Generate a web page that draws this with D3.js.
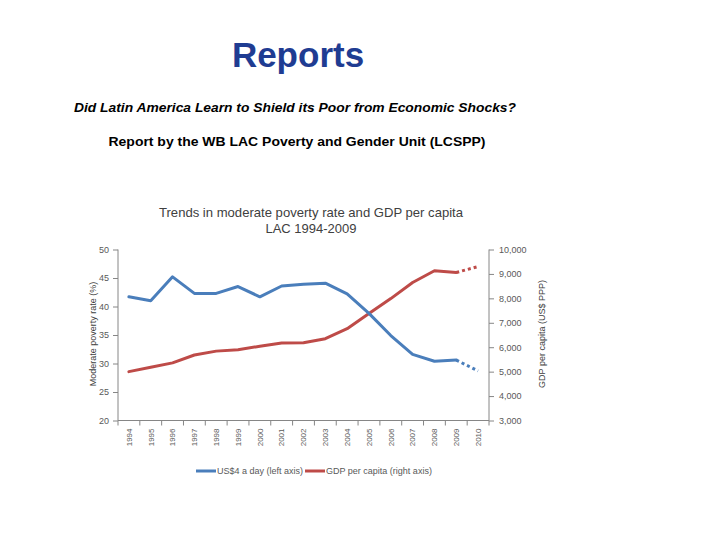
<!DOCTYPE html>
<html><head><meta charset="utf-8">
<script src="https://cdn.jsdelivr.net/npm/d3@7"></script>
<style>body{margin:0;background:#fff}svg{display:block}</style>
</head><body>
<svg id="c" width="720" height="540"></svg>
<script>
const years = ["1994","1995","1996","1997","1998","1999","2000","2001","2002","2003","2004","2005","2006","2007","2008","2009","2010"];
const poverty = [41.7,41.0,45.2,42.3,42.3,43.5,41.7,43.6,43.9,44.1,42.2,38.8,34.9,31.6,30.4,30.6,28.7];
const gdp = [5000,5180,5360,5680,5840,5900,6040,6170,6180,6350,6760,7380,7990,8650,9130,9060,9300];
const projectedFrom = "2009";
const leftTicks = [20,25,30,35,40,45,50];
const rightTicks = [3000,4000,5000,6000,7000,8000,9000,10000];
const seriesNames = ["US$4 a day (left axis)","GDP per capita (right axis)"];

const svg = d3.select("#c");
const F = "'Liberation Sans', Arial, sans-serif";
const L = 118, R = 489, T = 249.5, B = 420.5;
const x = d3.scaleBand().domain(years).range([L, R]);
const cx = d => x(d) + x.bandwidth()/2;
const yL = d3.scaleLinear().domain([20,50]).range([B, T]);
const yR = d3.scaleLinear().domain([3000,10000]).range([B, T]);
const axisCol = "#868686", txtCol = "#595959";
const blue = "#4A7EBB", red = "#BE4B48";

// headings
svg.append("text").attr("x",298).attr("y",67).attr("text-anchor","middle")
  .attr("font-family",F).attr("font-weight","bold").attr("font-size",35).attr("fill","#1F3C92").text("Reports");
svg.append("text").attr("x",295).attr("y",112).attr("text-anchor","middle")
  .attr("font-family",F).attr("font-weight","bold").attr("font-style","italic").attr("font-size",13)
  .attr("textLength",442).attr("lengthAdjust","spacingAndGlyphs").attr("fill","#000")
  .text("Did Latin America Learn to Shield its Poor from Economic Shocks?");
svg.append("text").attr("x",297).attr("y",146).attr("text-anchor","middle")
  .attr("font-family",F).attr("font-weight","bold").attr("font-size",13)
  .attr("textLength",377).attr("lengthAdjust","spacingAndGlyphs").attr("fill","#000")
  .text("Report by the WB LAC Poverty and Gender Unit (LCSPP)");

// chart title
svg.append("text").attr("x",311).attr("y",217).attr("text-anchor","middle")
  .attr("font-family",F).attr("font-size",13).attr("fill","#404040")
  .attr("textLength",304).attr("lengthAdjust","spacingAndGlyphs")
  .text("Trends in moderate poverty rate and GDP per capita");
svg.append("text").attr("x",311).attr("y",233).attr("text-anchor","middle")
  .attr("font-family",F).attr("font-size",13).attr("fill","#404040").text("LAC 1994-2009");

// axes
const gL = svg.append("g").attr("transform",`translate(${L},0)`)
  .call(d3.axisLeft(yL).tickValues(leftTicks).tickSize(5).tickPadding(4));
const gR = svg.append("g").attr("transform",`translate(${R},0)`)
  .call(d3.axisRight(yR).tickValues(rightTicks).tickSize(5).tickPadding(5).tickFormat(d3.format(",")));
const gB = svg.append("g").attr("transform",`translate(0,${B})`)
  .call(d3.axisBottom(x).tickSize(0).tickPadding(0));
[gL,gR,gB].forEach(g=>{
  g.selectAll("path.domain").attr("stroke",axisCol);
  g.selectAll("line").attr("stroke",axisCol);
  g.selectAll("text").attr("fill",txtCol).attr("font-family",F).attr("font-size",9);
});
gL.select("path.domain").attr("d",`M0,${T}V${B}`);
gR.select("path.domain").attr("d",`M0,${T}V${B}`);
gB.select("path.domain").attr("d",`M${L},0H${R}`);
// x boundary ticks
gB.selectAll("line.bt").data(years.concat(["end"])).join("line").attr("class","bt")
  .attr("x1",(d,i)=>L+i*x.bandwidth()).attr("x2",(d,i)=>L+i*x.bandwidth())
  .attr("y1",0).attr("y2",5).attr("stroke",axisCol);
gB.selectAll(".tick text").attr("transform","rotate(-90)").attr("text-anchor","end")
  .attr("x",-8).attr("y",0).attr("dy","0.35em").attr("font-size",8);

// axis titles
svg.append("text").attr("transform",`translate(96,334) rotate(-90)`).attr("text-anchor","middle")
  .attr("font-family",F).attr("font-size",9).attr("fill","#404040").text("Moderate poverty rate (%)");
svg.append("text").attr("transform",`translate(545,334) rotate(-90)`).attr("text-anchor","middle")
  .attr("font-family",F).attr("font-size",9).attr("fill","#404040").text("GDP per capita (US$ PPP)");

// lines
const pi = years.indexOf(projectedFrom);
function drawSeries(vals, y, col){
  const pts = vals.map((v,i)=>[cx(years[i]), y(v)]);
  const line = d3.line();
  svg.append("path").attr("d",line(pts.slice(0,pi+1))).attr("fill","none").attr("stroke",col)
    .attr("stroke-width",3).attr("stroke-linejoin","round").attr("stroke-linecap","round");
  svg.append("path").attr("d",line(pts.slice(pi))).attr("fill","none").attr("stroke",col)
    .attr("stroke-width",3).attr("stroke-dasharray","3,3");
}
drawSeries(gdp, yR, red);
drawSeries(poverty, yL, blue);

// legend
const leg = [{name:seriesNames[0],col:blue,x:196},{name:seriesNames[1],col:red,x:305}];
leg.forEach(l=>{
  svg.append("line").attr("x1",l.x).attr("x2",l.x+20).attr("y1",471).attr("y2",471)
    .attr("stroke",l.col).attr("stroke-width",3);
  svg.append("text").attr("x",l.x+21).attr("y",474).attr("font-family",F).attr("font-size",9)
    .attr("fill",txtCol).text(l.name);
});
</script>
</body></html>
